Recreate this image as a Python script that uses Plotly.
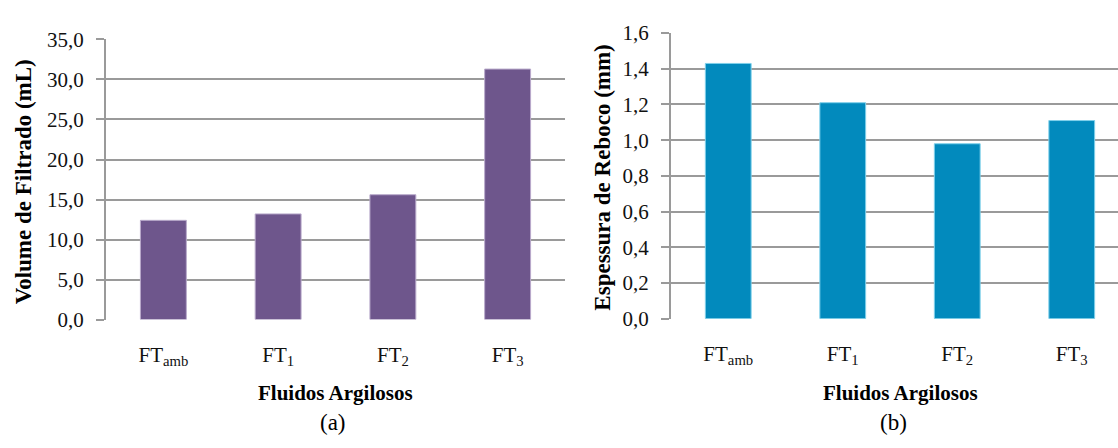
import plotly.graph_objects as go

# Data
categorias = ["FT<sub>amb</sub>", "FT<sub>1</sub>", "FT<sub>2</sub>", "FT<sub>3</sub>"]
volume_filtrado = [12.4, 13.2, 15.6, 31.3]      # mL
espessura_reboco = [1.43, 1.21, 0.98, 1.11]     # mm
ticks_volume = [0, 5, 10, 15, 20, 25, 30, 35]
ticks_espessura = [0, 0.2, 0.4, 0.6, 0.8, 1.0, 1.2, 1.4, 1.6]

W, H = 1118, 448
FONT = "'Times New Roman', 'Liberation Serif', serif"
GRID = "#9a9a9a"

x_idx = list(range(len(categorias)))

fig = go.Figure()
fig.add_trace(go.Bar(x=x_idx, y=volume_filtrado, width=0.4,
                     marker=dict(color="#6e568c", line=dict(color="#b9aacb", width=1)),
                     xaxis="x", yaxis="y", showlegend=False, hoverinfo="y"))
fig.add_trace(go.Bar(x=x_idx, y=espessura_reboco, width=0.4,
                     marker=dict(color="#028abd", line=dict(color="#7fd0ea", width=1)),
                     xaxis="x2", yaxis="y2", showlegend=False, hoverinfo="y"))

def px_x(p):
    return p / W

def px_y(p):
    return 1 - p / H

xcommon = dict(tickmode="array", tickvals=x_idx, ticktext=categorias,
               showgrid=False, zeroline=False, showline=False, ticks="",
               tickfont=dict(family=FONT, size=21, color="#111"),
               ticklabelstandoff=20, fixedrange=True)
ycommon = dict(showgrid=True, gridcolor=GRID, gridwidth=2, zeroline=False,
               showline=True, linecolor=GRID, linewidth=2,
               ticks="outside", ticklen=8, tickcolor=GRID, tickwidth=2,
               tickformat=".1f", tickfont=dict(family=FONT, size=21, color="#111"),
               ticklabelstandoff=8, fixedrange=True)

fig.update_layout(
    width=W, height=H,
    margin=dict(l=0, r=0, t=0, b=0),
    paper_bgcolor="white", plot_bgcolor="white",
    separators=",.",
    xaxis=dict(domain=[px_x(106), px_x(565)], range=[-0.5, 3.5], anchor="y", **xcommon),
    yaxis=dict(domain=[px_y(325), px_y(29)], range=[0, 35], anchor="x",
               tickvals=ticks_volume, **ycommon),
    xaxis2=dict(domain=[px_x(671), 1.0], range=[-0.5, 3.5 - 11 / 114.5], anchor="y2", **xcommon),
    yaxis2=dict(domain=[px_y(324), px_y(22.3)], range=[0, 1.6], anchor="x2",
                tickvals=ticks_espessura, **ycommon),
)

def label(text, x, y, size, bold=False, angle=0):
    fig.add_annotation(text=f"<b>{text}</b>" if bold else text,
                       x=px_x(x), y=px_y(y), xref="paper", yref="paper",
                       xanchor="center", yanchor="middle", showarrow=False,
                       textangle=angle, font=dict(family=FONT, size=size, color="black"))

# Axis titles and panel captions
label("Volume de Filtrado (mL)", 23, 180, 23, bold=True, angle=-90)
label("Espessura de Reboco (mm)", 603, 175, 23, bold=True, angle=-90)
label("Fluidos Argilosos", 335, 403, 21, bold=True)
label("Fluidos Argilosos", 900, 403, 21, bold=True)
label("(a)", 333, 434, 23)
label("(b)", 893, 434, 23)

fig.write_html("out.html")
